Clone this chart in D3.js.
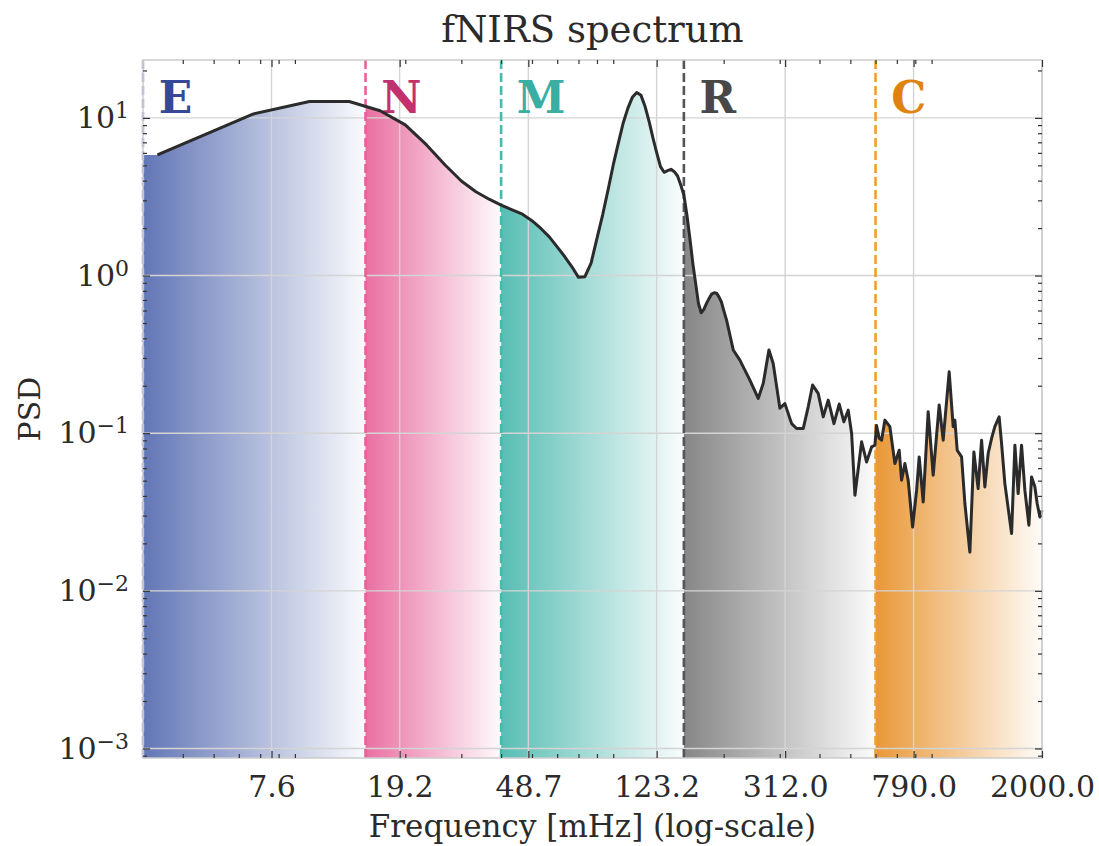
<!DOCTYPE html>
<html>
<head>
<meta charset="utf-8">
<script src="https://cdn.jsdelivr.net/npm/d3@7"></script>
<style>
  body { margin: 0; background: #fff; }
  text { font-family: "DejaVu Serif", serif; fill: #2b2b2b; }
</style>
</head>
<body>
<div id="chart"></div>
<script>
// spectrum (frequency in mHz, PSD)
var freq = [3.33, 6.67, 10.0, 13.33, 16.67, 20.0, 23.33, 26.67, 30.0, 33.33, 36.67, 40.0,
  43.33, 46.67, 50.0, 53.33, 56.67, 60.0, 63.33, 66.67, 70.0, 73.33, 76.67, 80.0,
  83.33, 86.67, 90.0, 93.33, 96.67, 100.0, 103.33, 106.67, 110.0, 113.33, 116.67, 120.0,
  123.33, 126.67, 130.0, 133.33, 136.67, 140.0, 143.33, 146.67, 150.0, 153.33, 156.67, 160.0,
  163.33, 166.67, 170.0, 173.33, 176.67, 180.0, 183.33, 186.67, 190.0, 193.33, 196.67, 200.0,
  204.3, 214.4, 224.9, 241.8, 256.8, 266.3, 277.5, 286.2, 300.4, 311.5, 327.0, 339.0,
  355.6, 368.7, 380.6, 396.3, 411.0, 426.1, 444.1, 461.4, 477.3, 492.4, 504.7, 516.9,
  542.5, 562.3, 583.2, 597.3, 604.4, 615.9, 626.7, 641.9, 665.5, 690.1, 711.9, 724.3,
  741.9, 759.8, 784.4, 807.5, 822.7, 846.9, 878.0, 910.3, 950.8, 978.6, 1022, 1052,
  1065, 1083, 1118, 1145, 1187, 1222, 1260, 1292, 1323, 1355, 1389, 1422,
  1467, 1493, 1529, 1605, 1644, 1683, 1725, 1767, 1819, 1855, 1900, 1931,
  1970, 2000];
var psd = [5.82, 10.6, 12.7, 12.7, 11.1, 9.03, 6.74, 5.03, 3.98, 3.40, 3.05, 2.80,
  2.61, 2.45, 2.23, 1.99, 1.76, 1.52, 1.32, 1.14, 0.974, 0.983, 1.20, 1.72,
  2.42, 3.49, 5.03, 6.90, 9.25, 11.5, 13.5, 14.5, 13.9, 11.8, 9.47, 7.43,
  5.97, 4.91, 4.52, 4.63, 4.72, 4.56, 4.28, 3.75, 3.24, 2.42, 1.72, 1.20,
  0.892, 0.666, 0.581, 0.610, 0.666, 0.716, 0.763, 0.778, 0.773, 0.733, 0.682, 0.604,
  0.522, 0.337, 0.291, 0.217, 0.166, 0.207, 0.337, 0.277, 0.144, 0.154, 0.115, 0.107,
  0.107, 0.147, 0.202, 0.179, 0.127, 0.162, 0.115, 0.153, 0.118, 0.140, 0.0996, 0.0404,
  0.0881, 0.0657, 0.0818, 0.0839, 0.112, 0.093, 0.0903, 0.121, 0.110, 0.0642, 0.078, 0.0503,
  0.0642, 0.0503, 0.0254, 0.0435, 0.0707, 0.0366, 0.137, 0.0541, 0.151, 0.0903, 0.245, 0.110,
  0.121, 0.078, 0.0707, 0.0358, 0.0176, 0.0761, 0.0445, 0.0903, 0.0456, 0.0743, 0.0926, 0.110,
  0.127, 0.086, 0.0479, 0.0231, 0.0839, 0.0414, 0.0839, 0.0435, 0.0261, 0.0528, 0.0456, 0.0358,
  0.0294, 0.0324];

// frequency bands
var bandNames = ["E", "N", "M", "R", "C"];
var bandEdges = [3, 15, 40, 150, 600, 2000];
var bandFill = ["#5a6fb2", "#e8689c", "#4fbab0", "#808080", "#e8922c"];
var bandLine = ["#a3b3da", "#e8609a", "#45bbae", "#555555", "#f0a030"];
var bandText = ["#34499a", "#c2306e", "#3aaea2", "#484848", "#e0830e"];

var xTicks = [7.6, 19.2, 48.7, 123.2, 312.0, 790.0, 2000.0];
var yTicks = [10, 1, 0.1, 0.01, 0.001];
var yTickExp = ["1", "0", "\u22121", "\u22122", "\u22123"];

var margin = {top: 60, right: 57, bottom: 88, left: 143},
    width = 1099 - margin.left - margin.right,
    height = 846 - margin.top - margin.bottom;

var x = d3.scaleLog().domain([3, 2000]).range([0, width]);
var y = d3.scaleLog().domain([8.7e-4, 23.3]).range([height, 0]);

var svgRoot = d3.select("#chart").append("svg")
    .attr("width", 1099)
    .attr("height", 846);
var defs = svgRoot.append("defs");
var svg = svgRoot.append("g")
    .attr("transform", "translate(" + margin.left + "," + margin.top + ")");

var data = freq.map(function(f, i) { return {f: f, p: psd[i]}; });

// gradients + clip rects per band
bandNames.forEach(function(b, i) {
  var g = defs.append("linearGradient")
      .attr("id", "grad" + b)
      .attr("gradientUnits", "userSpaceOnUse")
      .attr("x1", x(bandEdges[i])).attr("x2", x(bandEdges[i + 1]))
      .attr("y1", 0).attr("y2", 0);
  g.append("stop").attr("offset", 0).attr("stop-color", bandFill[i]).attr("stop-opacity", 0.95);
  g.append("stop").attr("offset", 1).attr("stop-color", bandFill[i]).attr("stop-opacity", 0.03);
  defs.append("clipPath").attr("id", "clip" + b)
    .append("rect")
      .attr("x", x(bandEdges[i])).attr("width", x(bandEdges[i + 1]) - x(bandEdges[i]))
      .attr("y", 0).attr("height", height);
});

// area reaches the left band edge
var areaData = [{f: bandEdges[0], p: psd[0]}].concat(data);
var area = d3.area()
    .x(function(d) { return x(d.f); })
    .y0(height)
    .y1(function(d) { return y(d.p); });

bandNames.forEach(function(b) {
  svg.append("path")
      .datum(areaData)
      .attr("d", area)
      .attr("fill", "url(#grad" + b + ")")
      .attr("clip-path", "url(#clip" + b + ")");
});

// grid
svg.append("g").selectAll("line")
    .data(xTicks)
    .enter().append("line")
      .attr("x1", function(d) { return x(d); }).attr("x2", function(d) { return x(d); })
      .attr("y1", 0).attr("y2", height)
      .attr("stroke", "#d4d4d4").attr("stroke-width", 1.4);
svg.append("g").selectAll("line")
    .data(yTicks)
    .enter().append("line")
      .attr("x1", 0).attr("x2", width)
      .attr("y1", function(d) { return y(d); }).attr("y2", function(d) { return y(d); })
      .attr("stroke", "#d4d4d4").attr("stroke-width", 1.4);

// band boundary lines
svg.append("g").selectAll("line")
    .data(bandNames)
    .enter().append("line")
      .attr("x1", function(d, i) { return x(bandEdges[i]); })
      .attr("x2", function(d, i) { return x(bandEdges[i]); })
      .attr("y1", 0).attr("y2", height)
      .attr("stroke", function(d, i) { return bandLine[i]; })
      .attr("stroke-width", 2.6)
      .attr("stroke-dasharray", "9,4");

// band letters
svg.append("g").selectAll("text")
    .data(bandNames)
    .enter().append("text")
      .attr("x", function(d, i) { return x(bandEdges[i] * 1.12); })
      .attr("y", 53)
      .attr("font-size", 44)
      .attr("font-weight", "bold")
      .style("fill", function(d, i) { return bandText[i]; })
      .text(function(d) { return d; });

// spectrum line
var line = d3.line()
    .x(function(d) { return x(d.f); })
    .y(function(d) { return y(d.p); });
svg.append("path")
    .datum(data)
    .attr("d", line)
    .attr("fill", "none")
    .attr("stroke", "#2b2b2b")
    .attr("stroke-width", 3)
    .attr("stroke-linejoin", "round");

// frame
svg.append("rect")
    .attr("width", width).attr("height", height)
    .attr("fill", "none").attr("stroke", "#cccccc").attr("stroke-width", 1.5);

// minor tick positions
var xMinor = [], yMinor = [];
[1, 10, 100, 1000].forEach(function(dec) {
  for (var k = 2; k <= 9; k++) {
    var v = k * dec;
    if (v > 3 && v < 2000) xMinor.push(v);
  }
});
[1e-4, 1e-3, 1e-2, 1e-1, 1, 10].forEach(function(dec) {
  for (var k = 2; k <= 9; k++) {
    var v = k * dec;
    if (v > 8.7e-4 && v < 23.3) yMinor.push(v);
  }
});

function styleTicks(g) {
  g.select(".domain").remove();
  g.selectAll("line").attr("stroke", "#333").attr("stroke-width", 1.2);
}

// bottom axis
svg.append("g")
    .attr("transform", "translate(0," + height + ")")
    .call(d3.axisBottom(x).tickValues(xMinor).tickSize(-4).tickFormat(""))
    .call(styleTicks);
var xAxis = svg.append("g")
    .attr("transform", "translate(0," + height + ")")
    .call(d3.axisBottom(x).tickValues(xTicks).tickSize(-7).tickPadding(18)
      .tickFormat(function(d) { return d.toFixed(1); }))
    .call(styleTicks);
xAxis.selectAll("text").attr("font-size", 30).attr("font-family", "DejaVu Serif").style("fill", "#2b2b2b");

// top axis
svg.append("g")
    .call(d3.axisTop(x).tickValues(xMinor).tickSize(-4).tickFormat(""))
    .call(styleTicks);
svg.append("g")
    .call(d3.axisTop(x).tickValues(xTicks).tickSize(-7).tickFormat(""))
    .call(styleTicks);

// left axis
svg.append("g")
    .call(d3.axisLeft(y).tickValues(yMinor).tickSize(-4).tickFormat(""))
    .call(styleTicks);
var yAxis = svg.append("g")
    .call(d3.axisLeft(y).tickValues(yTicks).tickSize(-7).tickPadding(14).tickFormat(""))
    .call(styleTicks);
yAxis.selectAll("text")
    .attr("font-size", 30).attr("font-family", "DejaVu Serif").style("fill", "#2b2b2b")
    .each(function(d, i) {
      var t = d3.select(this);
      t.append("tspan").text("10");
      t.append("tspan").attr("dy", "-0.45em").attr("font-size", 22).text(yTickExp[i]);
    });

// right axis
svg.append("g")
    .attr("transform", "translate(" + width + ",0)")
    .call(d3.axisRight(y).tickValues(yMinor).tickSize(-4).tickFormat(""))
    .call(styleTicks);
svg.append("g")
    .attr("transform", "translate(" + width + ",0)")
    .call(d3.axisRight(y).tickValues(yTicks).tickSize(-7).tickFormat(""))
    .call(styleTicks);

// labels
svgRoot.append("text")
    .attr("x", margin.left + width / 2).attr("y", 42)
    .attr("text-anchor", "middle").attr("font-size", 37)
    .text("fNIRS spectrum");
svgRoot.append("text")
    .attr("x", margin.left + width / 2).attr("y", 837)
    .attr("text-anchor", "middle").attr("font-size", 31)
    .text("Frequency [mHz] (log-scale)");
svgRoot.append("text")
    .attr("transform", "translate(40," + (margin.top + height / 2) + ") rotate(-90)")
    .attr("text-anchor", "middle").attr("font-size", 30)
    .text("PSD");
</script>
</body>
</html>
